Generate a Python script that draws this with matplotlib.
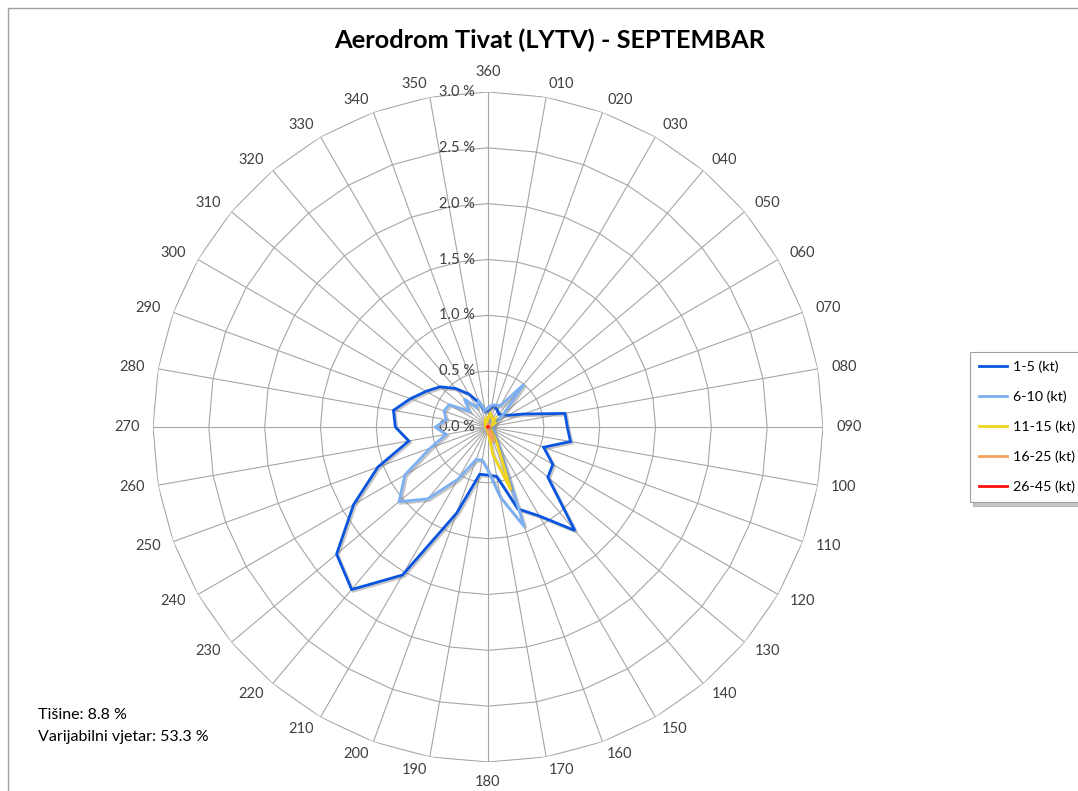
import numpy as np
import matplotlib
matplotlib.use('Agg')
import matplotlib.pyplot as plt
import matplotlib.patheffects as pe
import matplotlib.transforms as mtransforms
from matplotlib.patches import Rectangle

plt.rcParams['font.family'] = ['Lato', 'DejaVu Sans']

# --- podaci: smjer vjetra i učestalost (%) po klasama brzine ---
directions = ['360', '010', '020', '030', '040', '050', '060', '070', '080',
              '090', '100', '110', '120', '130', '140', '150', '160', '170',
              '180', '190', '200', '210', '220', '230', '240', '250', '260',
              '270', '280', '290', '300', '310', '320', '330', '340', '350']

kt_1_5 = [0.15, 0.18, 0.19, 0.17, 0.15, 0.17, 0.21, 0.34, 0.70,
          0.71, 0.75, 0.53, 0.67, 0.70, 1.21, 0.92, 0.78, 0.45,
          0.43, 0.43, 0.82, 1.53, 1.90, 1.77, 1.39, 1.05, 0.72,
          0.83, 0.86, 0.74, 0.64, 0.56, 0.45, 0.34, 0.23, 0.14]

kt_6_10 = [0.17, 0.20, 0.21, 0.22, 0.50, 0.18, 0.08, 0.06, 0.05,
           0.05, 0.05, 0.05, 0.06, 0.08, 0.10, 0.20, 0.95, 0.64,
           0.39, 0.30, 0.31, 0.54, 0.84, 1.04, 0.86, 0.55, 0.38,
           0.47, 0.38, 0.42, 0.40, 0.22, 0.33, 0.20, 0.25, 0.15]

kt_11_15 = [0.08, 0.12, 0.10, 0.08, 0.10, 0.06, 0.07, 0.04, 0.03,
            0.02, 0.02, 0.02, 0.03, 0.04, 0.06, 0.15, 0.60, 0.25,
            0.04, 0.03, 0.02, 0.02, 0.02, 0.02, 0.02, 0.02, 0.02,
            0.02, 0.02, 0.02, 0.02, 0.03, 0.04, 0.05, 0.07, 0.05]

kt_16_25 = [0.02, 0.02, 0.02, 0.02, 0.02, 0.01, 0.01, 0.01, 0.01,
            0.01, 0.01, 0.01, 0.01, 0.01, 0.02, 0.05, 0.14, 0.06,
            0.01, 0.01, 0.01, 0.01, 0.01, 0.01, 0.01, 0.01, 0.01,
            0.01, 0.01, 0.01, 0.01, 0.01, 0.01, 0.01, 0.01, 0.01]

kt_26_45 = [0.0] * 9 + [0.0] * 7 + [0.01] + [0.0] * 19

series = [
    ('1-5 (kt)', kt_1_5, '#0A55E0'),
    ('6-10 (kt)', kt_6_10, '#7DB0F2'),
    ('11-15 (kt)', kt_11_15, '#F2D41C'),
    ('16-25 (kt)', kt_16_25, '#F7A15A'),
    ('26-45 (kt)', kt_26_45, '#FF1010'),
]

r_max = 3.0
rings = np.arange(0.0, r_max + 0.01, 0.5)
grid_col = '#A6A6A6'

# --- figura ---
W, H = 1078, 791
fig = plt.figure(figsize=(W / 100, H / 100), dpi=100)
cx, cy, R = 488, 427, 335
ax = fig.add_axes([(cx - R) / W, (H - cy - R) / H, 2 * R / W, 2 * R / H],
                  projection='polar')
ax.set_theta_zero_location('N')
ax.set_theta_direction(-1)
ax.set_ylim(0, r_max)
ax.grid(False)
ax.set_xticks([])
ax.set_yticks([])
ax.spines['polar'].set_visible(False)
ax.patch.set_visible(False)

theta = np.deg2rad(np.arange(len(directions)) * 10)
theta_c = np.append(theta, theta[0])

# mreža: poligoni i zrake kao u Excel radar grafikonu
for t in theta:
    ax.plot([t, t], [0, r_max], color=grid_col, lw=0.8, zorder=1)
for r in rings[1:]:
    ax.plot(theta_c, np.full(len(theta_c), r), color=grid_col, lw=0.8, zorder=1)

# oznake smjerova (poravnate prema kvadrantu, kao u Excelu)
for t, lab in zip(theta, directions):
    s, c = np.sin(t), np.cos(t)
    ha = 'left' if s > 0.05 else ('right' if s < -0.05 else 'center')
    va = 'bottom' if c > 0.99 else ('top' if c < -0.99 else 'center')
    ax.text(t, 3.12, lab, ha=ha, va=va, fontsize=10.5, color='#404040')

# oznake procenata
off = mtransforms.offset_copy(ax.transData, fig=fig, x=-13, y=0, units='dots')
for r in rings:
    ax.text(0, r, f'{r:.1f} %', transform=off, ha='right', va='center',
            fontsize=10.5, color='#404040')

# serije
shadow = [pe.SimpleLineShadow(offset=(1.2, -1.2), shadow_color='#808080', alpha=0.45),
          pe.Normal()]
for i, (name, vals, col) in enumerate(series):
    v = np.append(vals, vals[0])
    ax.plot(theta_c, v, color=col, lw=2.0, label=name, zorder=3 + i,
            path_effects=shadow, solid_joinstyle='miter')

# naslov i tekst
fig.text(549.5 / W, 1 - 40 / H, 'Aerodrom Tivat (LYTV) - SEPTEMBAR',
         ha='center', va='center', fontsize=18.3, fontweight='bold', color='black')
fig.text(38 / W, 1 - 715 / H, 'Tišine: 8.8 %', ha='left', va='center',
         fontsize=11.5, color='black')
fig.text(38 / W, 1 - 737 / H, 'Varijabilni vjetar: 53.3 %', ha='left', va='center',
         fontsize=11.5, color='black')

# legenda
handles, labels = ax.get_legend_handles_labels()
leg = fig.legend(handles, labels, loc='upper left',
                 bbox_to_anchor=(970 / W, 1 - 352 / H), borderaxespad=0,
                 fontsize=10.3, frameon=True, fancybox=False,
                 shadow={'color': '#909090', 'alpha': 0.5, 'ox': 2, 'oy': -3},
                 handlelength=2.0, handletextpad=0.4, labelspacing=1.22,
                 borderpad=0.6)
leg.get_frame().set_edgecolor('#A0A0A0')
leg.get_frame().set_linewidth(0.8)
for line in leg.get_lines():
    line.set_linewidth(2.0)
    line.set_path_effects([])

# okvir grafikona
fig.patches.append(Rectangle((8 / W, -0.1), 1.2, (H - 8) / H + 0.1,
                             transform=fig.transFigure, fill=False,
                             edgecolor='#A0A0A0', lw=1.0))

fig.savefig('out.png', dpi=100)
